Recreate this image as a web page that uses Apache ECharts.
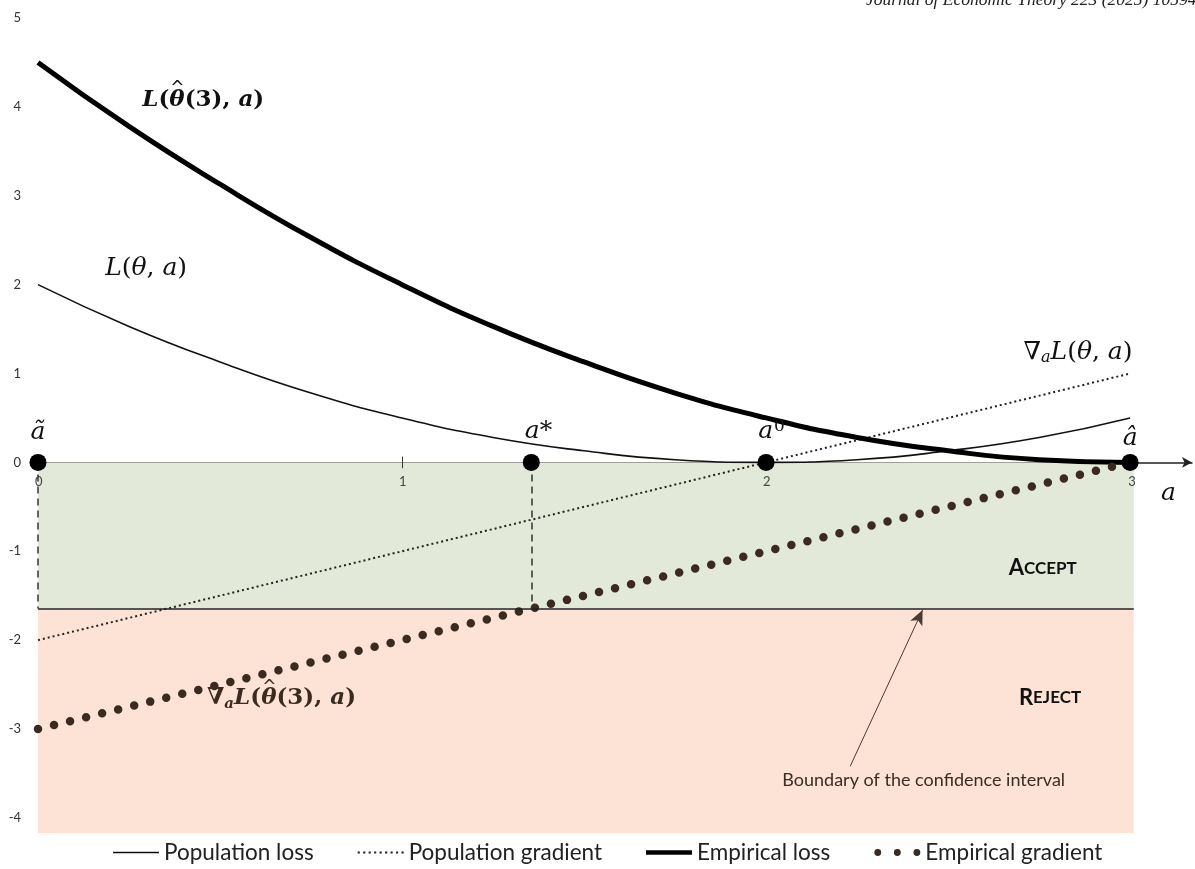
<!DOCTYPE html>
<html>
<head>
<meta charset="utf-8">
<script src="https://cdn.jsdelivr.net/npm/echarts@6/dist/echarts.min.js"></script>
<style>
  html, body { margin: 0; padding: 0; background: #fff; }
  #chart { width: 1195px; height: 869px; }
</style>
</head>
<body>
<div id="chart"></div>
<script>
// values
var aGrid = [0, 0.25, 0.5, 0.75, 1, 1.25, 1.5, 1.75, 2, 2.25, 2.5, 2.75, 3];
var popLoss = [2, 1.53, 1.13, 0.78, 0.5, 0.28, 0.13, 0.03, 0, 0.03, 0.13, 0.28, 0.5];
var empLoss = [4.5, 3.78, 3.13, 2.53, 2, 1.53, 1.13, 0.78, 0.5, 0.28, 0.13, 0.03, 0];
var popGradEnds = [[0, -2], [3, 1]];
var empGradEnds = [[0, -3], [3, 0]];
var pointsA = [0, 1.355, 2, 3];      // a~, a*, a0, a^
var boundary = -1.645;
var regionEnd = 3.01;
var yTicks = [-4, -3, -2, -1, 0, 1, 2, 3, 4, 5];
var xTicks = [0, 1, 2, 3];

var legendNames = ['Population loss', 'Population gradient', 'Empirical loss', 'Empirical gradient'];

function pairs(xs, ys) {
    var out = [];
    for (var i = 0; i < xs.length; i++) out.push([xs[i], ys[i]]);
    return out;
}

var serif = 'DejaVu Serif';
var ink = '#111';
var brown = '#3a2a1f';

// measure text so the hat can sit over theta
var mctx = document.createElement('canvas').getContext('2d');
function tw(txt, font) { mctx.font = font; return mctx.measureText(txt).width; }
var BI = 'italic bold 23px "DejaVu Serif"';
var BN = 'bold 23px "DejaVu Serif"';
var hatShift1 = tw('L', BI) + tw('(', BN) + 1;
var hatShift2 = tw('∇', BN) + tw('a', 'italic bold 15px "DejaVu Serif"') + tw('L', BI) + tw('(', BN) + 1;

var mathRich = {
    i: { fontFamily: serif, fontStyle: 'italic', fontSize: 25, color: ink, align: 'left', lineHeight: 28 },
    n: { fontFamily: serif, fontSize: 25, color: ink, align: 'left', lineHeight: 28 },
    s: { fontFamily: serif, fontStyle: 'italic', fontSize: 16, color: ink, align: 'left', padding: [12, 0, 0, 0] },
    sup: { fontFamily: serif, fontSize: 17, color: ink, align: 'left', padding: [0, 0, 9, 1] },
    bi: { fontFamily: serif, fontStyle: 'italic', fontWeight: 'bold', fontSize: 23, color: ink, align: 'left', lineHeight: 28 },
    bn: { fontFamily: serif, fontWeight: 'bold', fontSize: 23, color: ink, align: 'left', lineHeight: 28 },
    gbi: { fontFamily: serif, fontStyle: 'italic', fontWeight: 'bold', fontSize: 23, color: brown, align: 'left', lineHeight: 28 },
    gbn: { fontFamily: serif, fontWeight: 'bold', fontSize: 23, color: brown, align: 'left', lineHeight: 28 },
    gs: { fontFamily: serif, fontStyle: 'italic', fontWeight: 'bold', fontSize: 15, color: brown, align: 'left', padding: [12, 0, 0, 0] },
    sp1: { width: hatShift1, lineHeight: 4, align: 'left' },
    sp2: { width: hatShift2, lineHeight: 4, align: 'left' },
    hat: { fontFamily: 'DejaVu Sans', fontSize: 17, color: ink, lineHeight: 4, align: 'left', padding: [10, 0, 0, 0] },
    ghat: { fontFamily: 'DejaVu Sans', fontSize: 17, color: brown, lineHeight: 4, align: 'left', padding: [10, 0, 0, 0] },
    c1: { fontFamily: 'Lato', fontWeight: 'bold', fontSize: 22, color: ink },
    c2: { fontFamily: 'Lato', fontWeight: 'bold', fontSize: 17, color: ink },
    note: { fontFamily: 'Lato', fontSize: 18, color: '#3b2c22' },
    tick: { fontFamily: 'Lato', fontSize: 13, color: '#444' }
};

var annotations = [
    { x: 0.454, y: 4.1, t: '{sp1|}{hat|^}\n{bi|L}{bn|(}{bi|θ}{bn|(3), }{bi|a}{bn|)}' },
    { x: 0.297, y: 2.18, t: '{i|L}{n|(}{i|θ}{n|, }{i|a}{n|)}' },
    { x: 2.857, y: 1.24, t: '{n|∇}{s|a}{i|L}{n|(}{i|θ}{n|, }{i|a}{n|)}' },
    { x: 0.669, y: -2.63, t: '{sp2|}{ghat|^}\n{gbn|∇}{gs|a}{gbi|L}{gbn|(}{gbi|θ}{gbn|(3), }{gbi|a}{gbn|)}' },
    { x: 0.0, y: 0.34, t: '{i|ã}' },
    { x: 1.375, y: 0.35, t: '{i|a}{n|*}' },
    { x: 2.015, y: 0.35, t: '{i|a}{sup|0}' },
    { x: 3.0, y: 0.27, t: '{i|â}' },
    { x: 3.105, y: -0.35, t: '{i|a}' },
    { x: 2.76, y: -1.19, t: '{c1|A}{c2|CCEPT}' },
    { x: 2.78, y: -2.65, t: '{c1|R}{c2|EJECT}' },
    { x: 2.433, y: -3.58, t: '{note|Boundary of the confidence interval}' }
];
// tick labels of the a-axis, drawn just under the zero line
xTicks.forEach(function (v) {
    annotations.push({ x: v + (v === 3 ? 0.005 : 0.002), y: -0.22, t: '{tick|' + v + '}' });
});

var labelData = annotations.map(function (d) {
    return { value: [d.x, d.y], label: { formatter: d.t } };
});

function squaresPath() {
    var p = 'path://';
    for (var x = 0; x <= 42; x += 5) p += 'M' + x + ',0h2v2h-2z';
    return p;
}
function dotsPath() {
    var p = 'path://';
    [0, 20, 40].forEach(function (x) {
        p += 'M' + x + ',3.5a3.5,3.5 0 1,0 7,0a3.5,3.5 0 1,0 -7,0z';
    });
    return p;
}
var legendIcons = ['path://M0,0h46v1.6h-46z', squaresPath(), 'path://M0,0h50v5h-50z', dotsPath()];
var legendColors = ['#111', '#222', '#000', brown];

var myChart = echarts.init(document.getElementById('chart'));

var option = {
    backgroundColor: '#fff',
    animation: false,
    title: {
        text: 'Journal of Economic Theory 223 (2025) 10594',
        left: 866,
        top: -9,
        padding: 0,
        textStyle: { fontFamily: 'Liberation Serif', fontStyle: 'italic', fontWeight: 'normal', fontSize: 17.5, color: '#222' }
    },
    legend: {
        data: legendNames.map(function (n, k) {
            return { name: n, icon: legendIcons[k], itemStyle: { color: legendColors[k], borderWidth: 0 } };
        }),
        left: 108,
        bottom: 0,
        itemGap: 44,
        itemWidth: 46,
        itemHeight: 8,
        symbolKeepAspect: true,
        textStyle: { fontFamily: 'Lato', fontSize: 22.5, color: '#222' }
    },
    grid: {
        left: 38,
        right: 3,
        top: 18,
        bottom: 36,
        containLabel: false,
        outerBoundsMode: 'none'
    },
    xAxis: {
        type: 'value',
        min: 0,
        max: 3.17,
        splitLine: { show: false },
        axisLine: {
            onZero: true,
            symbol: ['none', 'arrow'],
            symbolSize: [8, 10],
            lineStyle: { color: '#222', width: 1.5 }
        },
        axisTick: { show: false },
        axisLabel: { show: false }
    },
    yAxis: {
        type: 'value',
        min: -4.17,
        max: 5,
        splitLine: { show: false },
        axisLine: { show: false },
        axisTick: { show: false },
        axisLabel: {
            customValues: yTicks,
            margin: 17,
            fontFamily: 'Lato',
            fontSize: 13,
            color: '#333'
        }
    },
    series: [
        {
            name: 'regions',
            type: 'line',
            data: [],
            silent: true,
            markArea: {
                silent: true,
                data: [
                    [{ coord: [0, 0], itemStyle: { color: '#e3e9d8' } }, { coord: [regionEnd, boundary] }],
                    [{ coord: [0, boundary], itemStyle: { color: '#fde3d6' } }, { coord: [regionEnd, -4.17] }]
                ]
            },
            markLine: {
                silent: true,
                symbol: 'none',
                label: { show: false },
                data: [
                    [{ coord: [0, boundary], lineStyle: { color: '#222', width: 1.5, type: 'solid' } }, { coord: [regionEnd, boundary] }],
                    [{ coord: [pointsA[0], 0], lineStyle: { color: '#333', width: 1.5, type: [7, 5] } }, { coord: [pointsA[0], boundary] }],
                    [{ coord: [pointsA[1], 0], lineStyle: { color: '#333', width: 1.5, type: [7, 5] } }, { coord: [pointsA[1], boundary] }],
                    [{ coord: [1, 0.065], lineStyle: { color: '#333', width: 1, type: 'solid' } }, { coord: [1, -0.065] }],
                    [{ coord: [2.231, -3.42], symbol: 'none', lineStyle: { color: '#4a3a30', width: 1, type: 'solid' } },
                     { coord: [2.43, -1.66], symbol: 'arrow', symbolSize: [10, 15], itemStyle: { color: '#3b2c22' } }]
                ]
            }
        },
        {
            name: 'Population loss',
            type: 'line',
            smooth: true,
            showSymbol: false,
            symbol: 'none',
            data: pairs(aGrid, popLoss),
            lineStyle: { color: '#111', width: 1.6 },
            itemStyle: { color: '#111' },
            z: 3
        },
        {
            name: 'Population gradient',
            type: 'line',
            showSymbol: false,
            symbol: 'none',
            data: popGradEnds,
            lineStyle: { color: '#222', width: 2, type: [2, 3] },
            itemStyle: { color: '#222' },
            z: 3
        },
        {
            name: 'Empirical loss',
            type: 'line',
            smooth: true,
            showSymbol: false,
            symbol: 'none',
            data: pairs(aGrid, empLoss),
            lineStyle: { color: '#000', width: 5 },
            itemStyle: { color: '#000' },
            z: 4
        },
        {
            name: 'Empirical gradient',
            type: 'line',
            showSymbol: false,
            symbol: 'none',
            data: empGradEnds,
            lineStyle: { color: brown, width: 8.5, type: [0, 16.5], cap: 'round' },
            itemStyle: { color: brown },
            z: 4
        },
        {
            name: 'points',
            type: 'scatter',
            symbolSize: 17,
            data: pointsA.map(function (a) { return [a, 0]; }),
            itemStyle: { color: '#000', opacity: 1 },
            z: 6
        },
        {
            name: 'labels',
            type: 'scatter',
            symbolSize: 0,
            silent: true,
            data: labelData,
            itemStyle: { color: 'transparent', opacity: 1 },
            label: {
                show: true,
                position: [0, 0],
                align: 'center',
                verticalAlign: 'middle',
                color: ink,
                opacity: 1,
                textBorderWidth: 0,
                rich: mathRich
            },
            z: 7
        }
    ]
};

myChart.setOption(option);
</script>
</body>
</html>
